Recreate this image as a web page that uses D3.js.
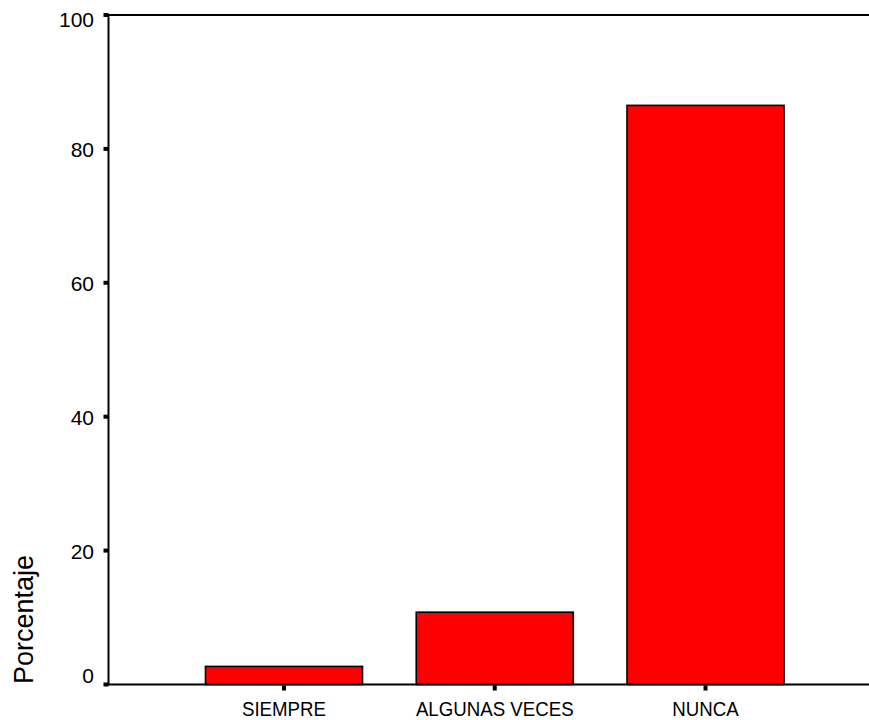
<!DOCTYPE html>
<html>
<head>
<meta charset="utf-8">
<script src="https://cdn.jsdelivr.net/npm/d3@7"></script>
<style>
  html, body { margin: 0; padding: 0; background: #fff; }
  svg { display: block; }
  text { font-family: "Liberation Sans", Arial, sans-serif; fill: #000; }
</style>
</head>
<body>
<script>
const categories = ["SIEMPRE", "ALGUNAS VECES", "NUNCA"];
const percentages = [2.7, 10.8, 86.5];
const yTickValues = [0, 20, 40, 60, 80, 100];
const yAxisTitle = "Porcentaje";

const W = 869, H = 720;
const plotLeft = 108.5, plotRight = 869, plotTop = 15, plotBottom = 684.5;

const svg = d3.select("body").append("svg").attr("width", W).attr("height", H);

const y = d3.scaleLinear().domain([0, 100]).range([plotBottom, plotTop]);
const x = d3.scaleBand().domain(categories).range([178.6, 810.9])
  .paddingInner(0.255).paddingOuter(0.1275);

// bars
svg.selectAll("rect.bar").data(categories).enter().append("rect")
  .attr("class", "bar")
  .attr("x", d => x(d))
  .attr("width", x.bandwidth())
  .attr("y", (d, i) => y(percentages[i]))
  .attr("height", (d, i) => y(0) - y(percentages[i]))
  .attr("fill", "#ff0000")
  .attr("stroke", "#000")
  .attr("stroke-width", 1.6);

// frame lines: left, top, bottom
svg.append("line").attr("x1", plotLeft).attr("x2", plotLeft).attr("y1", plotTop - 1).attr("y2", plotBottom + 1)
  .attr("stroke", "#000").attr("stroke-width", 2);
svg.append("line").attr("x1", plotLeft).attr("x2", plotRight).attr("y1", plotTop).attr("y2", plotTop)
  .attr("stroke", "#000").attr("stroke-width", 2);
svg.append("line").attr("x1", plotLeft).attr("x2", plotRight).attr("y1", plotBottom).attr("y2", plotBottom)
  .attr("stroke", "#000").attr("stroke-width", 2);

// y ticks
svg.selectAll("rect.ytick").data(yTickValues).enter().append("rect")
  .attr("class", "ytick")
  .attr("x", plotLeft - 5).attr("width", 5)
  .attr("y", d => y(d) - 2).attr("height", 4)
  .attr("fill", "#000");

svg.selectAll("text.ylab").data(yTickValues).enter().append("text")
  .attr("class", "ylab")
  .attr("x", 94)
  .attr("y", d => Math.max(plotTop + 12, Math.min(plotBottom - 2, y(d) + 8)))
  .attr("text-anchor", "end")
  .attr("font-size", 21)
  .text(d => d);

// x ticks
svg.selectAll("rect.xtick").data(categories).enter().append("rect")
  .attr("class", "xtick")
  .attr("x", d => x(d) + x.bandwidth() / 2 - 2).attr("width", 4)
  .attr("y", plotBottom + 1).attr("height", 5)
  .attr("fill", "#000");

svg.selectAll("text.xlab").data(categories).enter().append("text")
  .attr("class", "xlab")
  .attr("transform", d => `translate(${x(d) + x.bandwidth() / 2},716) scale(0.89,1)`)
  .attr("text-anchor", "middle")
  .attr("font-size", 21)
  .text(d => d);

// y axis title
svg.append("text")
  .attr("transform", "translate(33,684) rotate(-90)")
  .attr("text-anchor", "start")
  .attr("font-size", 27)
  .text(yAxisTitle);
</script>
</body>
</html>
